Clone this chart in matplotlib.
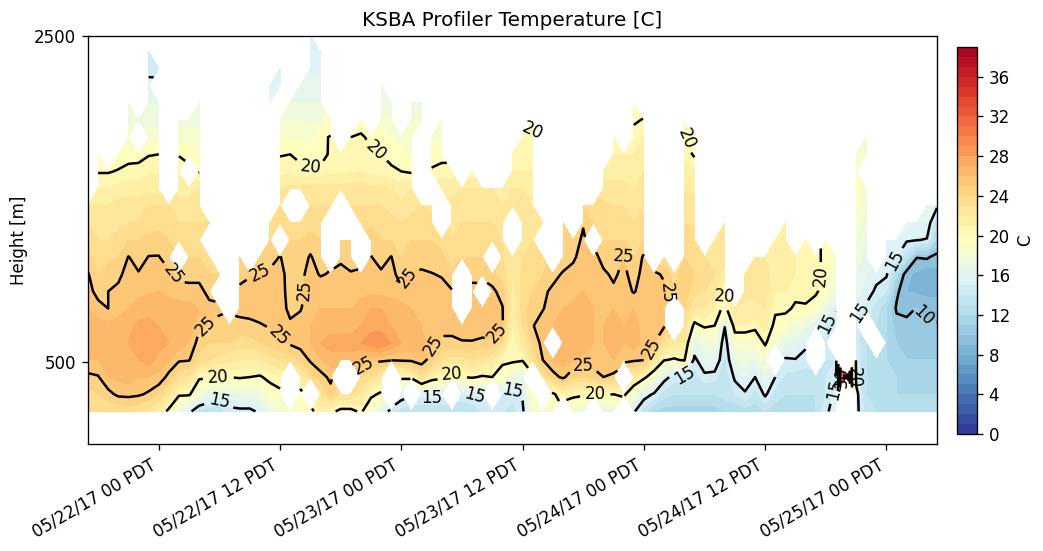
import numpy as np
import pandas as pd
import matplotlib
matplotlib.use('Agg')
import matplotlib.pyplot as plt
import matplotlib.dates as mdates

n = np.nan

times = pd.date_range('2017-05-21 17:00', periods=85, freq='h')
heights = [200, 305, 410, 515, 620, 725, 830, 935, 1040, 1145, 1250, 1355,
           1460, 1565, 1670, 1775, 1880, 1985, 2090, 2195, 2300, 2405, 2510]

# temperature per gate, one list per height, 85 hourly columns (10 per line)
t00 = [23,23,23,23,23.5,23,22.5,21.5,19.5,17,
       15.5,13.5,13,13,14.5,14.6,14.6,15.3,17,18,
       18.5,19,19.5,21,20.5,19.5,19.5,20.3,18.5,16,
       14.5,13.5,13,13,13,13,13,13,13,14,
       14.5,14,13.5,14.7,18,18.5,18.5,n,18,17,
       n,16.5,17,n,15.2,13.5,12,11.5,11.5,11.5,
       11.5,11.5,11.5,12,12,12.5,12.5,13,12.5,12.5,
       12.5,12.5,13,14.8,15.5,n,15.5,13.5,13,13,
       13,13,13,13,13]
t01 = [23.5,24,24.6,25.3,25.3,25.2,24.8,24,22.5,20.3,
       20.3,18,17,16.5,16.5,17,17,17.5,19,19.5,
       n,19.3,n,22.5,24.5,23,23,22,20.4,19.7,
       n,15.8,n,15.5,15.5,15.5,n,14.7,15.2,15.2,
       n,14.7,14.5,15.2,19.5,n,19.7,21,20.5,20.3,
       19.8,20.3,20,20.5,18,15.7,14.8,13.5,13,13,
       13,13,13,13.5,14,14.8,13.5,15.3,13.5,13,
       13,13,13,14,15.5,n,15.5,13,13,12.5,
       12,12,12,12,12]
t02 = [24.7,24.9,26,26.2,26.5,26,26,25.8,24.6,23,
       22.8,20.3,20.2,20,20,20.2,20,19.8,20.5,21,
       n,21.5,23.5,24.5,25.3,n,n,24,23,22,
       n,20.5,20.5,23,21,20.5,19.5,20,20.2,19.8,
       20,19.3,17,16.5,n,23,24.5,25.3,24,24,
       24.5,25,24.7,n,22,20.5,18.5,15.5,14.5,14.5,
       13.5,14.5,14.3,13,15.3,16,15,16.5,15,13.7,
       13.5,13.3,13.5,14,14.5,39,14.5,13,13,12.5,
       12,11.5,11.5,11.5,11.5]
t03 = [26,26,26.5,27,27,27,27.5,26.5,26,25.2,
       25.1,23.5,23,22.5,22.3,22,22,22,22.5,23,
       23.5,24,25.2,26,26.5,26.5,26.5,25.7,25.3,25.3,
       25.1,25.2,25.3,25.7,24.3,23,22.5,22.5,23,22.5,
       22,20.3,20.5,20.2,23,25,26,26.5,26,25.5,
       25.5,26,26,25.5,25.2,25.05,22.5,20.1,19.8,20.2,
       14.5,16.5,16.5,13.5,17,17.5,17,18.3,n,14.8,
       14.9,14.5,n,14,14,n,14.5,13,13,12,
       11.5,11,11,11,11]
t04 = [26.5,26.5,26.5,26.8,27,27.5,27.8,27.5,27,26.5,
       26,24.5,24,24,24,23.5,23.5,24,24.5,24.8,
       25.2,25.6,26,27,27.5,27.5,27.5,28,28.8,29,
       28,27,26.5,26.5,25.2,24.8,24.8,24.9,24.9,24.7,
       24.8,23.5,20.3,22,24,25.5,n,27,27,27,
       26,26,27,26,26.5,25.7,25.1,23,22,22,
       16.5,17.5,17.5,14,18.5,18.5,18.5,20.3,18,16.5,
       16.5,15.3,n,14.5,n,n,14.5,13,n,12,
       11,10.5,10.5,10.5,10.3]
t05 = [26.5,26.3,26.3,26.5,26.8,27.2,27.5,27,26.5,27,
       27,25.2,24.9,24.7,24.6,24.7,24.8,24.9,25.1,25.5,
       25.2,25.5,26,26.3,26.5,26.5,26.5,27,27.5,27.5,
       27,26.5,26.3,26,26,25.3,25.3,25.6,25.7,25.7,
       25.6,25.2,21,23,24.9,25.8,26,26.2,26.5,27,
       26,26,26.7,26,26.3,25.7,25.4,25.2,n,23,
       19.5,20.3,20,15.1,21,21,20.5,21.5,19.5,19,
       18,17,16,15,14,n,14.5,n,13,12,
       10.5,10.3,10.5,10.2,10.1]
t06 = [26,25.5,25,25.5,26,26.5,26.5,26.5,26.5,26.5,
       26.5,26,25.3,25.2,n,25.3,25.3,25.5,25.6,25.5,
       24.7,24.9,25.7,26,26,26,26,26.5,27,27,
       26.5,26.5,26,25.8,25.8,25.7,25.7,n,26,26,
       26,25.1,21.5,23.5,24.7,24.9,25.8,26,26.2,26.5,
       26,26,26,26,26,26,25.5,25.3,n,24,
       22,22,21,19.5,22,21.5,21.5,22,20.3,20.4,
       19.7,19.8,19,17,15.2,n,15.5,14.7,13.5,12,
       9.8,9.7,10.05,9.6,9.6]
t07 = [25.5,24.5,25,25.3,26,25.7,25.9,26,25.7,25.4,
       25.3,25.3,24.7,n,n,25.2,25.4,25.4,25.5,25.4,
       24.6,24.6,25.5,25.7,25.7,26,25.7,25.7,25.8,25.7,
       25.7,25.2,25.7,25.7,25.5,25.4,25.1,n,25.3,n,
       25.3,24.5,21.5,23.5,24,24.8,25.2,25.5,25.7,26,
       26,25.7,25.2,25.5,24.9,25.5,25.6,25.3,24,24.5,
       23.5,23,22.5,20.2,n,22.5,22.5,22.5,21,21,
       20.5,20.5,20.3,19,17.5,n,16.5,15.7,14.7,14,
       10.3,9,8.8,8.7,8.7]
t08 = [25.1,24,24.5,24.7,25.5,25.1,25.4,25.5,25.2,24.7,
       24.7,24.7,24,24,n,24.7,24.9,25.05,25.2,25.4,
       24.5,24.7,25.4,24.9,25.1,25.3,25.1,25.2,25.4,25.2,
       25.4,24.5,25.1,25.2,25.05,24.9,24.2,n,24.7,24.7,
       24.3,23.5,22,23.3,23.5,24,24.7,25.1,25.4,25.6,
       25.7,25.2,24.8,25.3,24.5,25.4,25.3,24.8,23.5,24.7,
       24,23.5,23,21.5,n,22.5,22.5,22.5,21.3,21.5,
       21,21,20.5,19.5,18,n,17,16,15.5,15.2,
       12,9.2,8.8,8.3,8.7]
t09 = [24.2,23.5,23.7,24,25.05,24.5,25.05,25.05,24.5,n,
       24,24,23.5,n,n,24,n,24.3,24.6,25.05,
       24.5,24.5,25.1,24.5,n,24.8,24.5,n,25.05,24.5,
       25.05,24,24.4,24.5,24.5,24.3,23.5,24,24,24,
       n,23,22.3,23,23.3,23.5,n,24.5,24.8,25.5,
       25.4,24.6,24.3,25.05,24,25.2,n,23,n,24,
       23.7,23,23,22.5,n,n,22,22,21.5,21.5,
       21,21,20.5,19.5,18.5,n,17.5,16.5,n,15.5,
       15,13,10.05,10.2,9.5]
t10 = [23.5,23,23,23.3,24,24,24.3,24.5,24,23.5,
       23.5,23.5,n,n,n,n,n,n,24,n,
       24,24,24.5,24,n,24,24,n,24.5,24,
       24,23.5,24,24,24,23.5,23,23.5,23.5,23.5,
       23.3,23,n,22.5,23,n,n,24,24.5,25.2,
       n,24,24,24,23.5,24,n,n,n,23.5,
       23.3,n,22.5,22.5,n,n,n,n,21.5,21.5,
       n,21,n,19.5,n,n,18,17,n,16,
       16,15.2,15.05,14.9,11.8]
t11 = [23,22.5,22.5,22.8,23,23,23.5,23.5,23.5,23,
       23,23,23,n,n,n,n,n,23.5,23.5,
       23.5,23.5,23.5,23.5,n,n,n,23.5,23.8,23.5,
       23.3,23,23.3,23.5,23.3,n,22.8,23,23,23,
       23,22.5,n,22.5,22.5,23,n,24,n,24.9,
       24,23.7,23.5,23.5,23,23.5,n,n,n,23,
       22.8,n,n,22.5,n,n,n,n,n,21.5,
       n,n,n,n,n,n,18.5,17.5,n,n,
       n,16.5,15.8,16,13]
t12 = [22,22,22,22.3,22.5,22.5,23,23,23,22.5,
       22.5,22.5,n,n,n,n,n,n,n,23,
       n,n,23,23,23,n,23,23,23,23,
       22.7,22.3,22.7,23,22.8,n,22.3,22.5,22.5,22.3,
       22.5,22,22.5,22.5,22,n,n,n,n,24,
       23.5,23.2,23,23,22.5,23,n,n,n,22.5,
       22.3,n,n,n,n,n,n,n,n,n,
       n,n,n,n,n,n,19,18,n,n,
       n,n,n,17,15.3]
t13 = [n,21,21,21.5,21.5,21.5,21.5,21.5,n,21.5,
       21.5,22,n,n,n,n,n,n,n,22,
       22.3,22.3,22.5,22.5,22.5,22.3,22.5,22.5,22.3,22.3,
       22,21.5,22,n,n,21.8,21.5,22,22,22,
       22,21.8,22,22,21.8,n,n,n,n,n,
       n,22.5,22.5,22.5,22,22.5,n,n,n,22,
       21.8,n,n,n,n,n,n,n,n,n,
       n,n,n,n,n,n,19.5,18.5,n,n,
       n,n,n,n,n]
t14 = [n,19.9,19.9,20.1,20.4,20.5,20.9,20.9,n,20.8,
       n,19.9,n,n,n,n,n,n,n,20.7,
       20.7,20.3,20.2,20.3,20.7,20.8,20.9,21,20.7,20.5,
       20.3,20,19.8,n,20.2,20.5,20.5,n,20.5,n,
       n,n,21,21,21,n,n,n,n,n,
       n,21.5,21.5,21.5,21.5,22,n,n,n,21.5,
       21,n,n,n,n,n,n,n,n,n,
       n,n,n,n,n,n,19,n,n,n,
       n,n,n,n,n]
t15 = [n,19,n,19.3,19.5,19.5,19.9,20,n,19.9,
       19.5,19,n,n,n,n,n,n,n,19.9,
       20,19.7,19.5,19.5,20.2,20.2,20.3,20.5,20.2,20,
       19.5,19.2,19,n,19.3,19.5,n,n,n,n,
       n,n,20.5,20.5,20.8,n,n,n,n,n,
       n,n,21,21,21,21.5,n,n,n,20.7,
       19.8,n,n,n,n,n,n,n,n,n,
       n,n,n,n,n,n,18.5,18,n,n,
       n,n,n,n,n]
t16 = [n,n,n,n,18.5,n,18.5,18.7,n,18.5,
       18.5,18.5,n,n,n,n,n,n,n,19,
       19,18.8,18.5,19.7,20.1,n,20,20.2,19.7,19.5,
       19,18.7,18.5,n,18.8,18.8,n,n,n,n,
       n,n,n,20.5,20.3,n,n,n,n,n,
       n,n,20.5,n,20.5,21,n,n,n,20.1,
       19.5,n,n,n,n,n,n,n,n,n,
       n,n,n,n,n,n,n,17.5,n,n,
       n,n,n,n,n]
t17 = [n,n,n,n,17.5,17.5,17.5,17.5,n,17.5,
       17.5,17.5,n,n,n,n,n,n,n,18,
       18,18,17.8,18,19,n,n,19.3,n,18.5,
       18.2,n,18,18,n,18,n,n,n,n,
       n,n,n,n,19.5,n,n,n,n,n,
       n,n,n,n,19.8,20.1,n,n,n,19,
       n,n,n,n,n,n,n,n,n,n,
       n,n,n,n,n,n,n,n,n,n,
       n,n,n,n,n]
t18 = [n,n,n,n,17,n,17,16.8,n,n,
       n,16.8,n,n,n,n,n,n,16.5,n,
       17,17,17,17,n,n,n,n,n,17.5,
       17.2,n,17,17,n,17,n,n,n,n,
       n,n,n,n,n,n,n,n,n,n,
       n,n,n,n,19,n,n,n,n,n,
       n,n,n,n,n,n,n,n,n,n,
       n,n,n,n,n,n,n,n,n,n,
       n,n,n,n,n]
t19 = [n,n,n,n,n,n,15.3,n,n,n,
       n,n,n,n,n,n,n,n,15.8,16,
       n,16.3,16.5,16.5,n,n,n,n,n,16.8,
       n,n,n,n,n,n,n,n,n,n,
       n,n,n,n,n,n,n,n,n,n,
       n,n,n,n,n,n,n,n,n,n,
       n,n,n,n,n,n,n,n,n,n,
       n,n,n,n,n,n,n,n,n,n,
       n,n,n,n,n]
t20 = [n,n,n,n,n,n,14.7,14.7,n,n,
       n,n,n,n,n,n,n,n,n,15.3,
       n,n,15.7,15.7,n,n,n,n,n,n,
       n,n,n,n,n,n,n,n,n,n,
       n,n,n,n,n,n,n,n,n,n,
       n,n,n,n,n,n,n,n,n,n,
       n,n,n,n,n,n,n,n,n,n,
       n,n,n,n,n,n,n,n,n,n,
       n,n,n,n,n]
t21 = [n,n,n,n,n,n,14.3,n,n,n,
       n,n,n,n,n,n,n,n,n,n,
       n,n,15.3,15.5,n,n,n,n,n,n,
       n,n,n,n,n,n,n,n,n,n,
       n,n,n,n,n,n,n,n,n,n,
       n,n,n,n,n,n,n,n,n,n,
       n,n,n,n,n,n,n,n,n,n,
       n,n,n,n,n,n,n,n,n,n,
       n,n,n,n,n]
t22 = [n,n,n,n,n,n,n,n,n,n,
       n,n,n,n,n,n,n,n,n,n,
       n,n,15.2,n,n,n,n,n,n,n,
       n,n,n,n,n,n,n,n,n,n,
       n,n,n,n,n,n,n,n,n,n,
       n,n,n,n,n,n,n,n,n,n,
       n,n,n,n,n,n,n,n,n,n,
       n,n,n,n,n,n,n,n,n,n,
       n,n,n,n,n]

rows = [t00, t01, t02, t03, t04, t05, t06, t07, t08, t09, t10, t11,
        t12, t13, t14, t15, t16, t17, t18, t19, t20, t21, t22]
temp = np.ma.masked_invalid(np.array(rows, dtype=float))
x = mdates.date2num(times)

# where the contour labels sit: (hours after first time, height)
label_spots = [(8.3, 1034), (11.9, 716), (16.9, 1064), (20.7, 942), (18.2, 624),
               (31.4, 1027), (27.9, 410), (34.1, 605), (49, 471), (52.9, 1248),
               (57.2, 923), (55.8, 587),
               (22, 1676), (28.9, 1829), (43.7, 1878), (59.3, 1871), (12.9, 404),
               (36, 453), (41.9, 612), (50.2, 312), (62.8, 917), (73.9, 1015),
               (13, 287), (34, 330), (38.1, 239), (42.2, 410), (59, 391),
               (72.9, 746), (76, 820), (79.8, 1125), (73.9, 330),
               (83.5, 820), (74.6, 410), (75.7, 410)]

fig = plt.figure(figsize=(1043 / 120, 551 / 120), dpi=120)
W, H = 1043.0, 551.0
ax = fig.add_axes([88 / W, 1 - 444 / H, 849 / W, 408 / H])
cax = fig.add_axes([957 / W, 1 - 434 / H, 20 / W, 387 / H])

cf = ax.contourf(x, heights, temp, levels=np.arange(0, 40, 1), cmap='RdYlBu_r')
cs = ax.contour(x, heights, temp, levels=np.arange(5, 40, 5), colors='k', linewidths=1.5)
spots = [(x[0] + h / 24.0, m) for h, m in label_spots]
ax.clabel(cs, fmt='%d', fontsize=10, inline=True, manual=spots)

ax.set_xlim(x[0], x[-1])
ax.set_ylim(0, 2500)
ax.set_yticks([500, 2500])
ax.set_ylabel('Height [m]')
ax.set_title('KSBA Profiler Temperature [C]')
ax.xaxis.set_major_locator(mdates.HourLocator(byhour=[0, 12]))
ax.xaxis.set_major_formatter(mdates.DateFormatter('%m/%d/%y %H PDT'))
for lab in ax.get_xticklabels():
    lab.set_rotation(30)
    lab.set_ha('right')

cb = fig.colorbar(cf, cax=cax, ticks=np.arange(0, 40, 4))
cb.set_label('C')

fig.savefig('out.png', dpi=120)
